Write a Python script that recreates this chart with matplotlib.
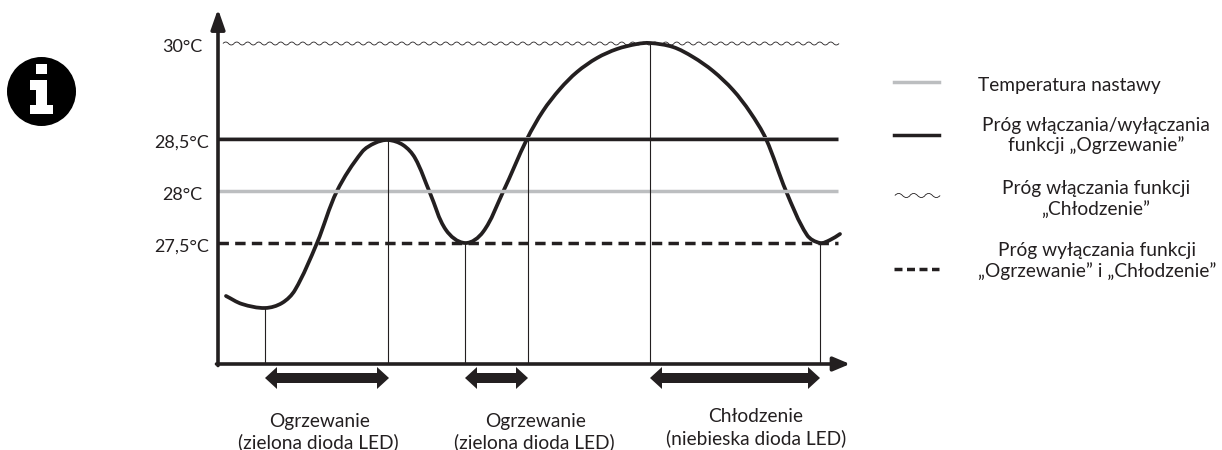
import numpy as np
from matplotlib import pyplot as plt
from matplotlib.lines import Line2D
from matplotlib.markers import MarkerStyle
from matplotlib.patches import Circle, PathPatch, Polygon
from matplotlib.path import Path
from matplotlib.transforms import Affine2D

plt.rcParams['font.family'] = ['Lato', 'DejaVu Sans']

DARK = "#231f20"
GREY = "#bcbec0"

# temperature levels, schematic height above the time axis
level_labels = ["30°C", "28,5°C", "28°C", "27,5°C"]
level_heights = [321, 225, 173, 121]

# measured temperature curve
curve_x = [226, 242, 265, 282, 295, 317, 337, 362, 375, 388, 403, 415, 430, 446, 465, 483, 503,
           527, 543, 560, 577, 597, 617, 637, 650, 673, 693, 713, 733, 750, 766, 786, 807, 820,
           830, 840]
curve_h = [68, 60, 56, 61, 74, 121, 173, 212, 221, 224, 219, 206, 171, 134, 121, 132, 172,
           225, 253, 275, 292, 306, 315, 320, 321, 317, 307, 293, 274, 252, 225, 173, 129, 121,
           124, 130]

# switching moments and the state bands below the axis
switch_x = [265, 388, 465, 527.5, 650, 820]
switch_h = [56, 224, 121, 225, 321, 121]
band_starts = [265, 465, 650]
band_ends = [389, 528, 820]
band_titles = ["Ogrzewanie", "Ogrzewanie", "Chłodzenie"]
band_subtitles = ["(zielona dioda LED)", "(zielona dioda LED)", "(niebieska dioda LED)"]

legend_labels = ["Temperatura nastawy",
                 "Próg włączania/wyłączania\nfunkcji „Ogrzewanie”",
                 "Próg włączania funkcji\n„Chłodzenie”",
                 "Próg wyłączania funkcji\n„Ogrzewanie” i „Chłodzenie”"]


def smooth_path(xs, ys):
    # bezier segments through the read points, tangents from the neighbours
    pts = np.column_stack([xs, ys])
    chords = np.linalg.norm(np.diff(pts, axis=0), axis=1)
    tang = np.gradient(pts, axis=0)
    tang = tang / np.linalg.norm(tang, axis=1)[:, None]
    verts = [pts[0]]
    for i in range(len(pts) - 1):
        verts.append(pts[i] + tang[i] * chords[i] / 3)
        verts.append(pts[i + 1] - tang[i + 1] * chords[i] / 3)
        verts.append(pts[i + 1])
    codes = [Path.MOVETO] + [Path.CURVE4] * (len(verts) - 1)
    return Path(verts, codes)


fig = plt.figure(figsize=(12.22, 4.5), dpi=100)
ax = fig.add_axes([218 / 1222, (450 - 364) / 450, 630 / 1222, 352 / 450])
ax.set_xlim(218, 848)
ax.set_ylim(0, 352)
ax.patch.set_alpha(0)
for side in ax.spines:
    ax.spines[side].set_visible(False)
ax.set_xticks([])
ax.set_yticks(level_heights, level_labels)
ax.tick_params(axis="y", length=0, pad=26, labelsize=13, labelcolor=DARK)
for label in ax.get_yticklabels():
    label.set_ha("center")
    label.set_transform(label.get_transform() + Affine2D().translate(0, -2))

# pixel coordinates for everything that is not on the axes
px = Affine2D().scale(1, -1).translate(0, 450)

# wavy line as a repeated marker
wave = Path([(-1, 0), (-0.5, 0.55), (0, 0), (0.5, -0.55), (1, 0)],
            [Path.MOVETO, Path.CURVE3, Path.CURVE3, Path.CURVE3, Path.CURVE3])
wave_x = np.arange(228, 838, 11)
ax.plot(wave_x, np.full(len(wave_x), level_heights[0]), ls="none",
        marker=MarkerStyle(wave), ms=8, mew=0.6, mfc="none", mec=DARK, clip_on=False)

ax.plot([218, 838], [level_heights[1] + 1.8] * 2, color=GREY, lw=0.7, solid_capstyle="butt")
ax.plot([218, 838], [level_heights[1]] * 2, color=DARK, lw=2.5, solid_capstyle="butt")
ax.plot([218, 838], [level_heights[2]] * 2, color=GREY, lw=2.5, solid_capstyle="butt")
ax.plot([218, 838], [level_heights[3]] * 2, color=DARK, lw=2.5, dashes=(3.0, 1.8))

for x, h in zip(switch_x, switch_h):
    ax.plot([x, x], [0, h], color=DARK, lw=0.8)

ax.add_patch(PathPatch(smooth_path(curve_x, curve_h), fc="none", ec=DARK, lw=2.7, capstyle="round"))

# axes with arrow heads
ax.annotate("", xy=(218, 355), xytext=(218, -1.5), annotation_clip=False,
            arrowprops=dict(arrowstyle="-|>,head_length=1.2,head_width=0.42", mutation_scale=10,
                            lw=2.6, color=DARK, shrinkA=0, shrinkB=0))
ax.annotate("", xy=(850, 0), xytext=(216.5, 0), annotation_clip=False,
            arrowprops=dict(arrowstyle="-|>,head_length=1.0,head_width=0.42", mutation_scale=10,
                            lw=2.6, color=DARK, shrinkA=0, shrinkB=0))

# double arrows below the axis
for start, end in zip(band_starts, band_ends):
    ax.add_patch(Polygon([(start, -14), (start + 12, -3), (start + 12, -9), (end - 12, -9),
                          (end - 12, -3), (end, -14), (end - 12, -25), (end - 12, -19),
                          (start + 12, -19), (start + 12, -25)],
                         closed=True, fc=DARK, ec="none", clip_on=False))

band_title_pos = [(320, 421), (536, 421), (756, 417)]
band_sub_pos = [(318, 442), (534, 442), (756, 438)]
for title, pos in zip(band_titles, band_title_pos):
    fig.text(pos[0], pos[1], title, transform=px, ha="center", va="center", fontsize=13.8, color=DARK)
for subtitle, pos in zip(band_subtitles, band_sub_pos):
    fig.text(pos[0], pos[1], subtitle, transform=px, ha="center", va="center", fontsize=13.8, color=DARK)

# legend
legend_y = [82, 135, 195, 269]
fig.add_artist(Line2D([894, 939], [legend_y[0]] * 2, transform=px, color=GREY, lw=2.5))
fig.add_artist(Line2D([894, 939], [legend_y[1]] * 2, transform=px, color=DARK, lw=2.5))
fig.add_artist(Line2D(np.arange(901.5, 939, 15), [legend_y[2]] * 3, transform=px, ls="none",
                      marker=MarkerStyle(wave), ms=11, mew=0.6, mfc="none", mec=DARK))
fig.add_artist(Line2D([894, 939], [legend_y[3]] * 2, transform=px, color=DARK, lw=2.5, dashes=(2.3, 1.3)))

legend_text_pos = [(1069, 85), (1096, 135.5), (1096, 199), (1097, 261)]
for label, pos in zip(legend_labels, legend_text_pos):
    fig.text(pos[0], pos[1], label, transform=px, ha="center", va="center", fontsize=13.8,
             color=DARK, linespacing=1.15)

# info badge, the source cuts it off on the right
badge = Circle((41.5, 91.5), 34.5, transform=px, fc="black", ec="none")
fig.add_artist(badge)
badge.set_clip_path(Path([(0, 0), (76, 0), (76, 450), (0, 450)]), px)
for patch in ([(36, 64), (47, 64), (47, 74), (36, 74)],
              [(30, 80), (47, 80), (47, 105), (53, 105), (53, 114), (30, 114), (30, 105), (36, 105),
               (36, 90), (30, 90)]):
    fig.add_artist(Polygon(patch, closed=True, transform=px, fc="white", ec="none"))

fig.savefig("out.png", dpi=100)
